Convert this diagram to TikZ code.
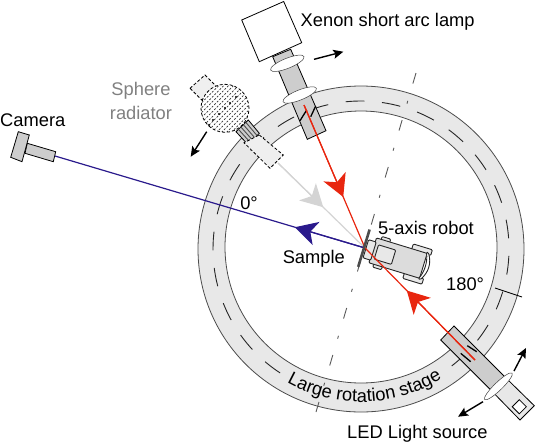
\documentclass[tikz,border=0pt]{standalone}
\usepackage{fontspec}
\setmainfont{Liberation Sans}
\usetikzlibrary{positioning,arrows.meta,calc,decorations.text}
\definecolor{ringgray}{HTML}{E8E8E8}
\definecolor{tubegray}{HTML}{CDCDCD}
\definecolor{navybeam}{HTML}{2A1A8C}
\definecolor{redbeam}{HTML}{E8260F}
\definecolor{palegray}{HTML}{D4D4D4}
\begin{document}
\begin{tikzpicture}[x=1pt,y=-1pt,>=stealth]
  \tikzset{
    lbl/.style={inner sep=0pt,font=\fontsize{18.3}{24}\selectfont},
    part/.style={draw=black,line width=0.8pt},
    tube/.style={part,fill=tubegray},
    pale/.style={part,fill=ringgray!70},
    slit/.style={line width=1.3pt,black},
    move/.style={-{Stealth[length=10pt,width=9pt,inset=2pt]},line width=1.4pt,black},
    beamr/.style={line width=1.2pt,redbeam},
    beamb/.style={line width=1.2pt,navybeam},
    beamg/.style={line width=1.2pt,palegray},
    bighead/.style={-{Stealth[length=22pt,width=24pt,inset=6pt]}},
    slice/.style={draw=black!75,line width=0.5pt,fill=white},
    robotline/.style={draw=black!85,line width=0.9pt,rounded corners=1pt}}
  \path[use as bounding box] (0,0) rectangle (535,445);
  \coordinate (ctr) at (361,249);
  \coordinate (ctrin) at (361,247);
  \coordinate (smp) at (365,248);
  \coordinate (lampend) at (304,105);
  \coordinate (ledend) at (475,360);
  \coordinate (camend) at (55,156);
  \coordinate (sphend) at (278,163);
  % rotation stage
  \path[fill=ringgray,even odd rule] (ctr) circle[radius=163pt] (ctrin) circle[radius=136pt];
  \draw[black!70,line width=0.8pt] (ctr) circle[radius=163pt] (ctrin) circle[radius=136pt];
  \draw[black!85,line width=0.9pt,dash pattern=on 18.7pt off 17.7pt]
    ($(ctr)+(-52.2:148pt)$) arc[start angle=-52.2,end angle=236.9,radius=148pt];
  \draw[black,line width=0.9pt] (495,288) -- (522,297);
  \path[decorate,decoration={text along path,text align=center,
      text={|\fontsize{18.3}{20}\selectfont|Large rotation stage}}]
    ($(ctr)+(234:153pt)$) arc[start angle=234,end angle=309,radius=153pt];
  % axis of the sample
  \draw[black!65,line width=0.9pt,dash pattern=on 11pt off 18pt on 3pt off 17pt] (416,73) -- (316,412);
  % camera
  \draw[tube] (27.3,143.3) -- (55.7,151.7) -- (53.3,161.7) -- (25,153.3) -- cycle;
  \draw[tube] (18.3,131.7) -- (29.3,135) -- (22,161.7) -- (10.7,157.3) -- cycle;
  % sphere radiator
  \draw[pale,densely dashed] (190,88.3) -- (205,75) -- (216.7,86.7) -- (201.7,100) -- cycle;
  \begin{scope}
    \clip (225,108.3) circle[radius=24pt];
    \fill[white] (225,108.3) circle[radius=24pt];
    \foreach \k in {-24,-20.5,...,24}
      \draw[black!80,line width=0.7pt,dash pattern=on 2pt off 1.6pt]
        ($(225,108.3)+(\k*0.707,\k*0.707)+(-24,24)$) -- ($(225,108.3)+(\k*0.707,\k*0.707)+(24,-24)$);
  \end{scope}
  \draw[black,line width=0.8pt,densely dashed] (225,108.3) circle[radius=24pt];
  \foreach \px/\py in {236/97,230/103,225/108,219/114,213/120,209/125}
    \fill[black] (\px,\py) circle[radius=1.1pt];
  \draw[tube] (248.3,120) -- (259.3,133.3) -- (248.3,145) -- (236,131.7) -- cycle;
  \foreach \t in {0.2,0.4,0.6,0.8}
    \draw[black!70,line width=0.9pt] ($(248.3,120)!\t!(236,131.7)$) -- ($(259.3,133.3)!\t!(248.3,145)$);
  \draw[pale,densely dashed] (259.3,135) -- (283.3,155) -- (270,168.3) -- (244,142.7) -- cycle;
  \draw[move] (206.7,131.7) -- (190.7,156.7);
  % xenon lamp
  \draw[part,fill=white] (241.7,20) -- (283.7,1.5) -- (301.7,42.7) -- (259.3,61.7) -- cycle;
  \draw[tube] (272.7,56.7) -- (290.7,49.3) -- (326,130.7) -- (307.3,139.3) -- cycle;
  \draw[slice,rotate around={22:(287.3,63.3)}] (287.3,63.3) ellipse[x radius=18pt,y radius=5pt];
  \draw[slice,rotate around={22:(299.7,95)}] (299.7,95) ellipse[x radius=18pt,y radius=5pt];
  \draw[slit] (300,120.7) -- (306.7,110);
  \draw[slit] (310.7,116.7) -- (315.7,106);
  \draw[move] (314,59.3) -- (343.3,51.7);
  % led source
  \draw[part,fill=ringgray] (506,378) -- (534.3,405.7) -- (520,420) -- (492.7,392) -- cycle;
  \draw[tube] (454,326) -- (440.7,340) -- (492.7,392) -- (506,378) -- cycle;
  \draw[slice,rotate around={44:(498.4,386.3)}] (498.4,386.3) ellipse[x radius=19pt,y radius=4pt];
  \draw[part,fill=white,rotate around={45:(519.3,406.7)}] (514.3,401.7) rectangle (524.3,411.7);
  \draw[slit] (467.3,345.7) -- (476.7,351.7);
  \draw[slit] (460.7,353.3) -- (470.7,361.7);
  \draw[move] (514,371) -- (526,348);
  \draw[move] (483,401.7) -- (458,416.7);
  % robot
  \begin{scope}[shift={(365,248)},rotate=-17]
    \draw[robotline,fill=ringgray] (45,-18) rectangle (65,-12);
    \draw[robotline,fill=ringgray] (45,12) rectangle (65,18);
    \draw[robotline,fill=ringgray] (13,-16) rectangle (22,-12);
    \draw[robotline,fill=ringgray] (13,12) rectangle (22,16);
    \draw[robotline,fill=tubegray!70] (8,-13) rectangle (61,13);
    \draw[robotline,fill=ringgray] (1,-9) rectangle (9,10);
    \draw[robotline,fill=ringgray] (12,-7) rectangle (30,8);
    \draw[robotline,fill=white] (62,-14) .. controls (68,-5) and (68,5) .. (62,14) -- (60,14) .. controls (64,5) and (64,-5) .. (60,-14) -- cycle;
  \end{scope}
  % beams
  \draw[beamg] (sphend) -- (smp);
  \draw[beamg,bighead,palegray] (sphend) -- ($(sphend)!0.52!(smp)$);
  \draw[beamb] (camend) -- (smp);
  \draw[beamb,bighead] (smp) -- ($(smp)!0.226!(camend)$);
  \draw[beamr] (lampend) -- (smp);
  \draw[beamr,bighead] (lampend) -- ($(lampend)!0.643!(smp)$);
  \draw[beamr] (ledend) -- (smp);
  \draw[beamr,bighead] (ledend) -- ($(ledend)!0.62!(smp)$);
  \begin{scope}[shift={(365,248)},rotate=-17]
    \draw[black!70,line width=2.6pt] (-1,-19) -- (-1,20);
  \end{scope}
  % labels
  \node[lbl,anchor=west] (xenon) at (300.5,22) {Xenon short arc lamp};
  \node[lbl,anchor=west] (camera) at (0,120) {Camera};
  \node[lbl,text=black!50,align=center] (sphere) at (141,101) {Sphere\\radiator};
  \node[lbl] (zero) at (249,203) {0°};
  \node[lbl,anchor=east] (sample) at (345,259) {Sample};
  \node[lbl,anchor=west] (robot) at (378,228) {5-axis robot};
  \node[lbl,anchor=west] (deg) at (446,284) {180°};
  \node[lbl,anchor=west] (led) at (347,434) {LED Light source};
\end{tikzpicture}
\end{document}
